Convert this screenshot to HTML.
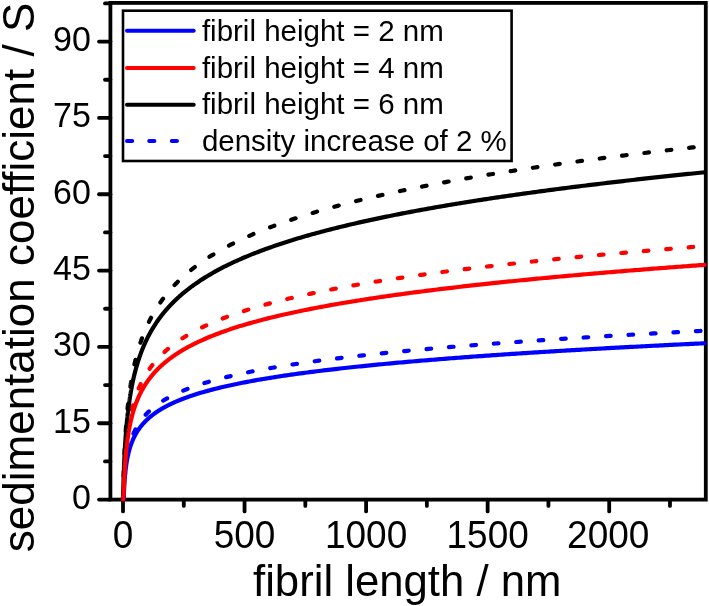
<!DOCTYPE html>
<html><head><meta charset="utf-8"><style>
html,body{margin:0;padding:0;background:#fff;}
body{width:709px;height:606px;overflow:hidden;}
svg{display:block;will-change:transform;}
text{font-family:"Liberation Sans",sans-serif;fill:#000;}
.yt{font-size:34px;text-anchor:end;}
.xt{font-size:37px;text-anchor:middle;}
.lg{font-size:29.5px;}
.sol{fill:none;stroke-width:4.2;stroke-linejoin:round;stroke-linecap:round;}
.dash{fill:none;stroke-width:4.2;stroke-linejoin:round;stroke-linecap:round;stroke-dasharray:4.6 17.9;}
</style></head><body>
<svg width="709" height="606" viewBox="0 0 709 606">
<rect width="709" height="606" fill="#fff"/>
<g stroke="#000" stroke-width="3.8" stroke-linecap="round" fill="none">
<line x1="99.00" y1="499.60" x2="110.4" y2="499.60"/>
<line x1="105.00" y1="461.43" x2="110.4" y2="461.43"/>
<line x1="99.00" y1="423.26" x2="110.4" y2="423.26"/>
<line x1="105.00" y1="385.10" x2="110.4" y2="385.10"/>
<line x1="99.00" y1="346.93" x2="110.4" y2="346.93"/>
<line x1="105.00" y1="308.76" x2="110.4" y2="308.76"/>
<line x1="99.00" y1="270.60" x2="110.4" y2="270.60"/>
<line x1="105.00" y1="232.43" x2="110.4" y2="232.43"/>
<line x1="99.00" y1="194.26" x2="110.4" y2="194.26"/>
<line x1="105.00" y1="156.09" x2="110.4" y2="156.09"/>
<line x1="99.00" y1="117.93" x2="110.4" y2="117.93"/>
<line x1="105.00" y1="79.76" x2="110.4" y2="79.76"/>
<line x1="99.00" y1="41.59" x2="110.4" y2="41.59"/>
<line x1="105.00" y1="3.42" x2="110.4" y2="3.42"/>
<line x1="123.00" y1="499.6" x2="123.00" y2="511.40"/>
<line x1="183.78" y1="499.6" x2="183.78" y2="505.90"/>
<line x1="244.55" y1="499.6" x2="244.55" y2="511.40"/>
<line x1="305.33" y1="499.6" x2="305.33" y2="505.90"/>
<line x1="366.10" y1="499.6" x2="366.10" y2="511.40"/>
<line x1="426.88" y1="499.6" x2="426.88" y2="505.90"/>
<line x1="487.65" y1="499.6" x2="487.65" y2="511.40"/>
<line x1="548.42" y1="499.6" x2="548.42" y2="505.90"/>
<line x1="609.20" y1="499.6" x2="609.20" y2="511.40"/>
<line x1="669.98" y1="499.6" x2="669.98" y2="505.90"/>
<rect x="110.4" y="2.9" width="595.40" height="496.70" stroke-linecap="butt" stroke-linejoin="miter"/>
</g>
<path d="M123.00,499.60 L123.01,499.60 L123.02,499.60 L123.04,499.60 L123.05,499.60 L123.06,499.60 L123.07,499.60 L123.09,499.60 L123.10,499.60 L123.11,499.60 L123.12,499.60 L123.13,499.60 L123.15,499.60 L123.16,499.60 L123.17,499.60 L123.18,499.59 L123.19,499.59 L123.21,499.59 L123.22,499.59 L123.23,499.59 L123.24,499.58 L123.26,499.58 L123.27,499.57 L123.28,499.56 L123.29,499.56 L123.30,499.54 L123.32,499.53 L123.33,499.52 L123.34,499.50 L123.35,499.48 L123.36,499.46 L123.38,499.43 L123.39,499.40 L123.40,499.37 L123.41,499.33 L123.43,499.29 L123.44,499.24 L123.45,499.18 L123.46,499.12 L123.47,499.05 L123.49,498.98 L123.53,498.63 L123.58,498.16 L123.63,497.57 L123.67,496.87 L123.72,496.06 L123.76,495.17 L123.81,494.22 L123.86,493.24 L123.90,492.24 L123.95,491.24 L124.00,490.25 L124.04,489.26 L124.09,488.30 L124.14,487.36 L124.18,486.45 L124.23,485.56 L124.28,484.69 L124.32,483.85 L124.37,483.04 L124.41,482.25 L124.46,481.48 L124.51,480.73 L124.55,480.00 L124.60,479.29 L124.65,478.61 L124.69,477.94 L124.74,477.28 L124.79,476.65 L124.83,476.03 L124.88,475.42 L124.93,474.83 L124.97,474.25 L125.02,473.69 L125.06,473.14 L125.11,472.60 L125.16,472.07 L125.20,471.55 L125.25,471.05 L125.30,470.55 L125.34,470.06 L125.39,469.59 L125.44,469.12 L125.48,468.66 L125.53,468.21 L125.58,467.77 L125.62,467.33 L125.67,466.91 L125.71,466.49 L125.76,466.08 L125.81,465.67 L125.85,465.27 L125.90,464.88 L125.95,464.49 L125.99,464.11 L126.04,463.74 L126.09,463.37 L126.13,463.01 L126.18,462.65 L126.23,462.30 L126.27,461.95 L126.32,461.60 L126.36,461.27 L126.41,460.93 L126.46,460.60 L126.50,460.28 L126.55,459.96 L126.60,459.64 L126.64,459.33 L126.69,459.02 L126.74,458.72 L126.78,458.42 L126.83,458.12 L126.87,457.83 L126.92,457.54 L126.97,457.25 L127.01,456.97 L127.06,456.69 L127.11,456.41 L127.15,456.14 L127.20,455.87 L127.25,455.60 L127.29,455.33 L127.34,455.07 L127.39,454.81 L127.43,454.56 L127.48,454.30 L127.52,454.05 L127.57,453.80 L127.62,453.56 L127.66,453.31 L127.71,453.07 L127.76,452.83 L127.80,452.60 L127.85,452.36 L127.90,452.13 L127.94,451.90 L127.99,451.67 L128.04,451.45 L128.08,451.23 L128.13,451.00 L128.17,450.78 L128.22,450.57 L128.27,450.35 L128.31,450.14 L128.36,449.93 L128.41,449.72 L128.45,449.51 L128.50,449.30 L128.55,449.10 L128.59,448.89 L128.64,448.69 L128.69,448.49 L128.73,448.29 L128.78,448.10 L128.82,447.90 L128.87,447.71 L128.92,447.52 L128.96,447.33 L129.01,447.14 L129.06,446.95 L129.10,446.76 L129.15,446.58 L129.20,446.40 L129.24,446.21 L129.29,446.03 L129.34,445.86 L129.38,445.68 L129.43,445.50 L129.47,445.33 L129.52,445.15 L129.57,444.98 L129.61,444.81 L129.66,444.64 L129.71,444.47 L129.75,444.30 L129.80,444.13 L129.85,443.97 L129.89,443.80 L129.94,443.64 L129.99,443.48 L130.03,443.31 L130.08,443.15 L130.12,442.99 L130.17,442.84 L130.22,442.68 L130.26,442.52 L130.31,442.37 L130.36,442.21 L130.40,442.06 L130.45,441.91 L130.50,441.76 L130.54,441.61 L130.59,441.46 L130.64,441.31 L130.68,441.16 L130.73,441.01 L130.77,440.87 L130.82,440.72 L130.87,440.58 L130.91,440.43 L130.96,440.29 L131.01,440.15 L131.05,440.01 L131.10,439.87 L131.15,439.73 L131.19,439.59 L131.24,439.45 L131.28,439.32 L131.33,439.18 L131.38,439.04 L131.42,438.91 L131.47,438.77 L131.52,438.64 L131.56,438.51 L131.61,438.38 L131.66,438.25 L131.70,438.12 L131.75,437.99 L131.80,437.86 L131.84,437.73 L131.89,437.60 L131.93,437.47 L131.98,437.35 L132.03,437.22 L132.07,437.10 L132.12,436.97 L132.17,436.85 L132.21,436.72 L132.26,436.60 L132.31,436.48 L132.35,436.36 L132.40,436.24 L132.45,436.12 L132.49,436.00 L132.54,435.88 L132.58,435.76 L132.63,435.64 L132.68,435.53 L132.72,435.41 L133.04,434.62 L133.36,433.86 L133.68,433.13 L133.99,432.41 L134.31,431.72 L134.63,431.04 L134.95,430.38 L135.26,429.74 L135.58,429.12 L135.90,428.51 L136.22,427.91 L136.54,427.33 L136.85,426.77 L137.17,426.21 L137.49,425.67 L137.81,425.14 L138.12,424.62 L138.44,424.12 L138.76,423.62 L139.08,423.13 L139.39,422.65 L139.71,422.18 L140.03,421.72 L140.35,421.27 L140.66,420.83 L140.98,420.39 L141.30,419.96 L141.62,419.54 L141.93,419.13 L142.25,418.72 L142.57,418.32 L142.89,417.92 L143.21,417.53 L143.52,417.15 L143.84,416.78 L144.16,416.41 L144.48,416.04 L144.79,415.68 L145.11,415.33 L145.43,414.98 L145.75,414.63 L146.06,414.29 L146.38,413.96 L146.70,413.63 L147.02,413.30 L147.33,412.98 L147.65,412.66 L147.97,412.35 L148.29,412.03 L148.60,411.73 L148.92,411.43 L149.24,411.13 L149.56,410.83 L149.88,410.54 L150.19,410.25 L150.51,409.97 L150.83,409.68 L151.15,409.41 L151.46,409.13 L151.78,408.86 L152.10,408.59 L152.42,408.32 L152.73,408.06 L153.05,407.80 L153.37,407.54 L153.69,407.28 L154.00,407.03 L154.32,406.78 L154.64,406.53 L154.96,406.28 L155.27,406.04 L155.59,405.80 L155.91,405.56 L156.23,405.32 L156.55,405.09 L156.86,404.86 L157.18,404.63 L157.50,404.40 L157.82,404.17 L158.13,403.95 L158.45,403.73 L158.77,403.51 L159.09,403.29 L159.40,403.08 L159.72,402.86 L160.04,402.65 L160.36,402.44 L160.67,402.23 L160.99,402.02 L161.31,401.82 L161.63,401.61 L161.94,401.41 L162.26,401.21 L162.58,401.01 L162.90,400.82 L163.22,400.62 L163.53,400.43 L163.85,400.23 L164.17,400.04 L164.49,399.85 L164.80,399.67 L165.12,399.48 L165.44,399.29 L165.76,399.11 L166.07,398.93 L166.39,398.74 L166.71,398.56 L167.03,398.39 L167.34,398.21 L167.66,398.03 L167.98,397.86 L168.30,397.68 L168.61,397.51 L168.93,397.34 L169.25,397.17 L169.57,397.00 L169.89,396.83 L170.20,396.66 L170.52,396.50 L170.84,396.33 L171.16,396.17 L171.47,396.01 L171.79,395.84 L172.11,395.68 L172.43,395.52 L172.74,395.37 L173.06,395.21 L173.38,395.05 L173.70,394.90 L174.01,394.74 L174.33,394.59 L174.65,394.43 L174.97,394.28 L175.28,394.13 L175.60,393.98 L175.92,393.83 L176.24,393.68 L176.56,393.54 L176.87,393.39 L177.19,393.24 L177.51,393.10 L177.83,392.95 L178.14,392.81 L178.46,392.67 L178.78,392.53 L179.10,392.39 L179.41,392.25 L179.73,392.11 L180.05,391.97 L180.37,391.83 L180.68,391.69 L181.00,391.56 L181.32,391.42 L181.64,391.29 L181.95,391.15 L182.27,391.02 L182.59,390.89 L182.91,390.75 L183.23,390.62 L183.54,390.49 L183.86,390.36 L184.18,390.23 L184.50,390.10 L184.81,389.97 L185.13,389.85 L185.45,389.72 L185.77,389.59 L186.08,389.47 L186.40,389.34 L186.72,389.22 L187.04,389.10 L187.35,388.97 L187.67,388.85 L187.99,388.73 L188.31,388.61 L188.62,388.49 L188.94,388.37 L189.26,388.25 L189.58,388.13 L189.90,388.01 L190.21,387.89 L190.53,387.77 L190.85,387.66 L191.17,387.54 L191.48,387.42 L191.80,387.31 L192.12,387.19 L192.44,387.08 L192.75,386.96 L193.07,386.85 L193.39,386.74 L193.71,386.63 L194.02,386.51 L194.34,386.40 L194.66,386.29 L194.98,386.18 L195.29,386.07 L195.61,385.96 L195.93,385.85 L198.25,385.07 L200.57,384.31 L202.90,383.57 L205.22,382.85 L207.54,382.16 L209.86,381.48 L212.19,380.81 L214.51,380.17 L216.83,379.54 L219.15,378.92 L221.47,378.32 L223.80,377.73 L226.12,377.16 L228.44,376.60 L230.76,376.05 L233.09,375.51 L235.41,374.98 L237.73,374.46 L240.05,373.95 L242.37,373.45 L244.70,372.96 L247.02,372.48 L249.34,372.01 L251.66,371.55 L253.99,371.09 L256.31,370.64 L258.63,370.20 L260.95,369.77 L263.27,369.34 L265.60,368.92 L267.92,368.51 L270.24,368.10 L272.56,367.70 L274.89,367.30 L277.21,366.91 L279.53,366.53 L281.85,366.15 L284.17,365.77 L286.50,365.41 L288.82,365.04 L291.14,364.68 L293.46,364.33 L295.79,363.98 L298.11,363.63 L300.43,363.29 L302.75,362.95 L305.07,362.62 L307.40,362.29 L309.72,361.97 L312.04,361.64 L314.36,361.33 L316.69,361.01 L319.01,360.70 L321.33,360.39 L323.65,360.09 L325.97,359.79 L328.30,359.49 L330.62,359.20 L332.94,358.91 L335.26,358.62 L337.59,358.33 L339.91,358.05 L342.23,357.77 L344.55,357.49 L346.87,357.22 L349.20,356.94 L351.52,356.68 L353.84,356.41 L356.16,356.14 L358.49,355.88 L360.81,355.62 L363.13,355.36 L365.45,355.11 L367.77,354.86 L370.10,354.61 L372.42,354.36 L374.74,354.11 L377.06,353.87 L379.39,353.62 L381.71,353.38 L384.03,353.15 L386.35,352.91 L388.67,352.68 L391.00,352.44 L393.32,352.21 L395.64,351.98 L397.96,351.76 L400.28,351.53 L402.61,351.31 L404.93,351.08 L407.25,350.86 L409.57,350.64 L411.90,350.43 L414.22,350.21 L416.54,350.00 L418.86,349.78 L421.18,349.57 L423.51,349.36 L425.83,349.16 L428.15,348.95 L430.47,348.74 L432.80,348.54 L435.12,348.34 L437.44,348.14 L439.76,347.94 L442.08,347.74 L444.41,347.54 L446.73,347.34 L449.05,347.15 L451.37,346.95 L453.70,346.76 L456.02,346.57 L458.34,346.38 L460.66,346.19 L462.98,346.00 L465.31,345.82 L467.63,345.63 L469.95,345.45 L472.27,345.26 L474.60,345.08 L476.92,344.90 L479.24,344.72 L481.56,344.54 L483.88,344.36 L486.21,344.19 L488.53,344.01 L490.85,343.84 L493.17,343.66 L495.50,343.49 L497.82,343.32 L500.14,343.15 L502.46,342.97 L504.78,342.81 L507.11,342.64 L509.43,342.47 L511.75,342.30 L514.07,342.14 L516.40,341.97 L518.72,341.81 L521.04,341.64 L523.36,341.48 L525.68,341.32 L528.01,341.16 L530.33,341.00 L532.65,340.84 L534.97,340.68 L537.30,340.52 L539.62,340.37 L541.94,340.21 L544.26,340.05 L546.58,339.90 L548.91,339.75 L551.23,339.59 L553.55,339.44 L555.87,339.29 L558.20,339.14 L560.52,338.99 L562.84,338.84 L565.16,338.69 L567.48,338.54 L569.81,338.39 L572.13,338.24 L574.45,338.10 L576.77,337.95 L579.10,337.81 L581.42,337.66 L583.74,337.52 L586.06,337.37 L588.38,337.23 L590.71,337.09 L593.03,336.95 L595.35,336.81 L597.67,336.67 L600.00,336.53 L602.32,336.39 L604.64,336.25 L606.96,336.11 L609.28,335.97 L611.61,335.84 L613.93,335.70 L616.25,335.56 L618.57,335.43 L620.90,335.29 L623.22,335.16 L625.54,335.03 L627.86,334.89 L630.18,334.76 L632.51,334.63 L634.83,334.50 L637.15,334.37 L639.47,334.24 L641.80,334.11 L644.12,333.98 L646.44,333.85 L648.76,333.72 L651.08,333.59 L653.41,333.46 L655.73,333.33 L658.05,333.21 L660.37,333.08 L662.70,332.96 L665.02,332.83 L667.34,332.70 L669.66,332.58 L671.98,332.46 L674.31,332.33 L676.63,332.21 L678.95,332.09 L681.27,331.96 L683.60,331.84 L685.92,331.72 L688.24,331.60 L690.56,331.48 L692.88,331.36 L695.21,331.24 L697.53,331.12 L699.85,331.00 L702.17,330.88 L704.50,330.76" stroke="#00f" class="dash" stroke-dashoffset="-0.03"/>
<path d="M123.00,499.60 L123.01,499.17 L123.02,498.69 L123.04,498.20 L123.05,497.71 L123.06,497.21 L123.07,496.70 L123.09,496.20 L123.10,495.69 L123.11,495.19 L123.12,494.68 L123.13,494.18 L123.15,493.67 L123.16,493.17 L123.17,492.68 L123.18,492.18 L123.19,491.69 L123.21,491.19 L123.22,490.71 L123.23,490.22 L123.24,489.74 L123.26,489.26 L123.27,488.78 L123.28,488.30 L123.29,487.83 L123.30,487.36 L123.32,486.90 L123.33,486.43 L123.34,485.97 L123.35,485.52 L123.36,485.06 L123.38,484.61 L123.39,484.16 L123.40,483.72 L123.41,483.27 L123.43,482.83 L123.44,482.40 L123.45,481.96 L123.46,481.53 L123.47,481.10 L123.49,480.68 L123.53,479.08 L123.58,477.52 L123.63,475.99 L123.67,474.50 L123.72,473.05 L123.76,471.63 L123.81,470.25 L123.86,468.90 L123.90,467.57 L123.95,466.28 L124.00,465.01 L124.04,463.77 L124.09,462.55 L124.14,461.36 L124.18,460.20 L124.23,459.06 L124.28,457.93 L124.32,456.84 L124.37,455.76 L124.41,454.70 L124.46,453.66 L124.51,452.64 L124.55,451.63 L124.60,450.65 L124.65,449.68 L124.69,448.73 L124.74,447.79 L124.79,446.87 L124.83,445.96 L124.88,445.07 L124.93,444.19 L124.97,443.33 L125.02,442.47 L125.06,441.63 L125.11,440.81 L125.16,439.99 L125.20,439.19 L125.25,438.40 L125.30,437.62 L125.34,436.85 L125.39,436.09 L125.44,435.34 L125.48,434.60 L125.53,433.87 L125.58,433.15 L125.62,432.44 L125.67,431.73 L125.71,431.04 L125.76,430.36 L125.81,429.68 L125.85,429.01 L125.90,428.35 L125.95,427.70 L125.99,427.05 L126.04,426.41 L126.09,425.78 L126.13,425.16 L126.18,424.54 L126.23,423.93 L126.27,423.33 L126.32,422.73 L126.36,422.14 L126.41,421.56 L126.46,420.98 L126.50,420.41 L126.55,419.84 L126.60,419.28 L126.64,418.73 L126.69,418.18 L126.74,417.63 L126.78,417.10 L126.83,416.56 L126.87,416.03 L126.92,415.51 L126.97,414.99 L127.01,414.48 L127.06,413.97 L127.11,413.47 L127.15,412.97 L127.20,412.47 L127.25,411.98 L127.29,411.49 L127.34,411.01 L127.39,410.53 L127.43,410.06 L127.48,409.59 L127.52,409.12 L127.57,408.66 L127.62,408.20 L127.66,407.75 L127.71,407.30 L127.76,406.85 L127.80,406.41 L127.85,405.97 L127.90,405.53 L127.94,405.10 L127.99,404.67 L128.04,404.24 L128.08,403.82 L128.13,403.40 L128.17,402.98 L128.22,402.57 L128.27,402.16 L128.31,401.75 L128.36,401.35 L128.41,400.95 L128.45,400.55 L128.50,400.15 L128.55,399.76 L128.59,399.37 L128.64,398.98 L128.69,398.60 L128.73,398.22 L128.78,397.84 L128.82,397.46 L128.87,397.09 L128.92,396.71 L128.96,396.35 L129.01,395.98 L129.06,395.62 L129.10,395.25 L129.15,394.89 L129.20,394.54 L129.24,394.18 L129.29,393.83 L129.34,393.48 L129.38,393.13 L129.43,392.79 L129.47,392.44 L129.52,392.10 L129.57,391.76 L129.61,391.42 L129.66,391.09 L129.71,390.76 L129.75,390.42 L129.80,390.10 L129.85,389.77 L129.89,389.44 L129.94,389.12 L129.99,388.80 L130.03,388.48 L130.08,388.16 L130.12,387.84 L130.17,387.53 L130.22,387.22 L130.26,386.91 L130.31,386.60 L130.36,386.29 L130.40,385.99 L130.45,385.68 L130.50,385.38 L130.54,385.08 L130.59,384.78 L130.64,384.48 L130.68,384.19 L130.73,383.89 L130.77,383.60 L130.82,383.31 L130.87,383.02 L130.91,382.73 L130.96,382.45 L131.01,382.16 L131.05,381.88 L131.10,381.60 L131.15,381.32 L131.19,381.04 L131.24,380.76 L131.28,380.48 L131.33,380.21 L131.38,379.94 L131.42,379.66 L131.47,379.39 L131.52,379.12 L131.56,378.86 L131.61,378.59 L131.66,378.32 L131.70,378.06 L131.75,377.80 L131.80,377.53 L131.84,377.27 L131.89,377.02 L131.93,376.76 L131.98,376.50 L132.03,376.24 L132.07,375.99 L132.12,375.74 L132.17,375.49 L132.21,375.23 L132.26,374.98 L132.31,374.74 L132.35,374.49 L132.40,374.24 L132.45,374.00 L132.49,373.75 L132.54,373.51 L132.58,373.27 L132.63,373.03 L132.68,372.79 L132.72,372.55 L133.04,370.94 L133.36,369.38 L133.68,367.86 L133.99,366.38 L134.31,364.95 L134.63,363.54 L134.95,362.18 L135.26,360.84 L135.58,359.54 L135.90,358.27 L136.22,357.03 L136.54,355.81 L136.85,354.62 L137.17,353.46 L137.49,352.32 L137.81,351.20 L138.12,350.11 L138.44,349.04 L138.76,347.99 L139.08,346.95 L139.39,345.94 L139.71,344.94 L140.03,343.97 L140.35,343.01 L140.66,342.06 L140.98,341.14 L141.30,340.22 L141.62,339.33 L141.93,338.44 L142.25,337.58 L142.57,336.72 L142.89,335.88 L143.21,335.05 L143.52,334.23 L143.84,333.43 L144.16,332.63 L144.48,331.85 L144.79,331.08 L145.11,330.32 L145.43,329.57 L145.75,328.83 L146.06,328.10 L146.38,327.38 L146.70,326.67 L147.02,325.96 L147.33,325.27 L147.65,324.58 L147.97,323.91 L148.29,323.24 L148.60,322.58 L148.92,321.93 L149.24,321.28 L149.56,320.64 L149.88,320.01 L150.19,319.39 L150.51,318.78 L150.83,318.17 L151.15,317.56 L151.46,316.97 L151.78,316.38 L152.10,315.79 L152.42,315.22 L152.73,314.65 L153.05,314.08 L153.37,313.52 L153.69,312.97 L154.00,312.42 L154.32,311.87 L154.64,311.34 L154.96,310.80 L155.27,310.28 L155.59,309.75 L155.91,309.24 L156.23,308.72 L156.55,308.21 L156.86,307.71 L157.18,307.21 L157.50,306.72 L157.82,306.23 L158.13,305.74 L158.45,305.26 L158.77,304.78 L159.09,304.31 L159.40,303.84 L159.72,303.37 L160.04,302.91 L160.36,302.45 L160.67,302.00 L160.99,301.55 L161.31,301.10 L161.63,300.66 L161.94,300.22 L162.26,299.78 L162.58,299.35 L162.90,298.92 L163.22,298.49 L163.53,298.07 L163.85,297.65 L164.17,297.24 L164.49,296.82 L164.80,296.41 L165.12,296.00 L165.44,295.60 L165.76,295.20 L166.07,294.80 L166.39,294.40 L166.71,294.01 L167.03,293.62 L167.34,293.23 L167.66,292.85 L167.98,292.47 L168.30,292.09 L168.61,291.71 L168.93,291.33 L169.25,290.96 L169.57,290.59 L169.89,290.23 L170.20,289.86 L170.52,289.50 L170.84,289.14 L171.16,288.78 L171.47,288.43 L171.79,288.07 L172.11,287.72 L172.43,287.37 L172.74,287.03 L173.06,286.68 L173.38,286.34 L173.70,286.00 L174.01,285.66 L174.33,285.32 L174.65,284.99 L174.97,284.66 L175.28,284.33 L175.60,284.00 L175.92,283.67 L176.24,283.35 L176.56,283.03 L176.87,282.71 L177.19,282.39 L177.51,282.07 L177.83,281.75 L178.14,281.44 L178.46,281.13 L178.78,280.82 L179.10,280.51 L179.41,280.20 L179.73,279.90 L180.05,279.60 L180.37,279.29 L180.68,278.99 L181.00,278.70 L181.32,278.40 L181.64,278.10 L181.95,277.81 L182.27,277.52 L182.59,277.23 L182.91,276.94 L183.23,276.65 L183.54,276.36 L183.86,276.08 L184.18,275.79 L184.50,275.51 L184.81,275.23 L185.13,274.95 L185.45,274.67 L185.77,274.40 L186.08,274.12 L186.40,273.85 L186.72,273.58 L187.04,273.31 L187.35,273.04 L187.67,272.77 L187.99,272.50 L188.31,272.23 L188.62,271.97 L188.94,271.71 L189.26,271.44 L189.58,271.18 L189.90,270.92 L190.21,270.66 L190.53,270.41 L190.85,270.15 L191.17,269.90 L191.48,269.64 L191.80,269.39 L192.12,269.14 L192.44,268.89 L192.75,268.64 L193.07,268.39 L193.39,268.14 L193.71,267.89 L194.02,267.65 L194.34,267.40 L194.66,267.16 L194.98,266.92 L195.29,266.68 L195.61,266.44 L195.93,266.20 L198.25,264.48 L200.57,262.82 L202.90,261.20 L205.22,259.62 L207.54,258.09 L209.86,256.60 L212.19,255.15 L214.51,253.73 L216.83,252.35 L219.15,251.00 L221.47,249.68 L223.80,248.39 L226.12,247.12 L228.44,245.89 L230.76,244.68 L233.09,243.50 L235.41,242.34 L237.73,241.20 L240.05,240.09 L242.37,238.99 L244.70,237.92 L247.02,236.86 L249.34,235.83 L251.66,234.81 L253.99,233.81 L256.31,232.83 L258.63,231.86 L260.95,230.91 L263.27,229.97 L265.60,229.05 L267.92,228.14 L270.24,227.25 L272.56,226.37 L274.89,225.50 L277.21,224.65 L279.53,223.80 L281.85,222.97 L284.17,222.15 L286.50,221.35 L288.82,220.55 L291.14,219.76 L293.46,218.98 L295.79,218.22 L298.11,217.46 L300.43,216.71 L302.75,215.97 L305.07,215.25 L307.40,214.52 L309.72,213.81 L312.04,213.11 L314.36,212.41 L316.69,211.72 L319.01,211.04 L321.33,210.37 L323.65,209.71 L325.97,209.05 L328.30,208.40 L330.62,207.75 L332.94,207.12 L335.26,206.49 L337.59,205.86 L339.91,205.24 L342.23,204.63 L344.55,204.03 L346.87,203.43 L349.20,202.83 L351.52,202.24 L353.84,201.66 L356.16,201.08 L358.49,200.51 L360.81,199.94 L363.13,199.38 L365.45,198.82 L367.77,198.27 L370.10,197.73 L372.42,197.18 L374.74,196.65 L377.06,196.11 L379.39,195.58 L381.71,195.06 L384.03,194.54 L386.35,194.03 L388.67,193.51 L391.00,193.01 L393.32,192.50 L395.64,192.00 L397.96,191.51 L400.28,191.02 L402.61,190.53 L404.93,190.05 L407.25,189.57 L409.57,189.09 L411.90,188.62 L414.22,188.15 L416.54,187.68 L418.86,187.22 L421.18,186.76 L423.51,186.30 L425.83,185.85 L428.15,185.40 L430.47,184.95 L432.80,184.51 L435.12,184.07 L437.44,183.63 L439.76,183.20 L442.08,182.76 L444.41,182.33 L446.73,181.91 L449.05,181.48 L451.37,181.06 L453.70,180.65 L456.02,180.23 L458.34,179.82 L460.66,179.41 L462.98,179.00 L465.31,178.60 L467.63,178.19 L469.95,177.79 L472.27,177.40 L474.60,177.00 L476.92,176.61 L479.24,176.22 L481.56,175.83 L483.88,175.44 L486.21,175.06 L488.53,174.68 L490.85,174.30 L493.17,173.92 L495.50,173.54 L497.82,173.17 L500.14,172.80 L502.46,172.43 L504.78,172.06 L507.11,171.70 L509.43,171.34 L511.75,170.97 L514.07,170.62 L516.40,170.26 L518.72,169.90 L521.04,169.55 L523.36,169.20 L525.68,168.85 L528.01,168.50 L530.33,168.15 L532.65,167.81 L534.97,167.47 L537.30,167.13 L539.62,166.79 L541.94,166.45 L544.26,166.11 L546.58,165.78 L548.91,165.44 L551.23,165.11 L553.55,164.78 L555.87,164.46 L558.20,164.13 L560.52,163.80 L562.84,163.48 L565.16,163.16 L567.48,162.84 L569.81,162.52 L572.13,162.20 L574.45,161.89 L576.77,161.57 L579.10,161.26 L581.42,160.95 L583.74,160.64 L586.06,160.33 L588.38,160.02 L590.71,159.71 L593.03,159.41 L595.35,159.10 L597.67,158.80 L600.00,158.50 L602.32,158.20 L604.64,157.90 L606.96,157.60 L609.28,157.31 L611.61,157.01 L613.93,156.72 L616.25,156.43 L618.57,156.14 L620.90,155.85 L623.22,155.56 L625.54,155.27 L627.86,154.98 L630.18,154.70 L632.51,154.41 L634.83,154.13 L637.15,153.85 L639.47,153.57 L641.80,153.29 L644.12,153.01 L646.44,152.73 L648.76,152.45 L651.08,152.18 L653.41,151.90 L655.73,151.63 L658.05,151.36 L660.37,151.09 L662.70,150.82 L665.02,150.55 L667.34,150.28 L669.66,150.01 L671.98,149.74 L674.31,149.48 L676.63,149.21 L678.95,148.95 L681.27,148.69 L683.60,148.43 L685.92,148.17 L688.24,147.91 L690.56,147.65 L692.88,147.39 L695.21,147.13 L697.53,146.87 L699.85,146.62 L702.17,146.36 L704.50,146.11" stroke="#000" class="dash" stroke-dashoffset="-0.95"/>
<path d="M123.00,499.60 L123.01,499.60 L123.02,499.59 L123.04,499.58 L123.05,499.56 L123.06,499.54 L123.07,499.51 L123.09,499.47 L123.10,499.43 L123.11,499.38 L123.12,499.32 L123.13,499.26 L123.15,499.19 L123.16,499.11 L123.17,499.02 L123.18,498.93 L123.19,498.83 L123.21,498.73 L123.22,498.62 L123.23,498.50 L123.24,498.37 L123.26,498.24 L123.27,498.11 L123.28,497.96 L123.29,497.81 L123.30,497.65 L123.32,497.49 L123.33,497.32 L123.34,497.15 L123.35,496.97 L123.36,496.78 L123.38,496.59 L123.39,496.39 L123.40,496.19 L123.41,495.99 L123.43,495.78 L123.44,495.56 L123.45,495.34 L123.46,495.12 L123.47,494.89 L123.49,494.66 L123.53,493.75 L123.58,492.79 L123.63,491.79 L123.67,490.76 L123.72,489.72 L123.76,488.66 L123.81,487.58 L123.86,486.51 L123.90,485.43 L123.95,484.35 L124.00,483.29 L124.04,482.22 L124.09,481.17 L124.14,480.13 L124.18,479.10 L124.23,478.09 L124.28,477.09 L124.32,476.10 L124.37,475.13 L124.41,474.18 L124.46,473.24 L124.51,472.32 L124.55,471.41 L124.60,470.52 L124.65,469.64 L124.69,468.78 L124.74,467.94 L124.79,467.11 L124.83,466.29 L124.88,465.49 L124.93,464.70 L124.97,463.92 L125.02,463.16 L125.06,462.41 L125.11,461.67 L125.16,460.95 L125.20,460.23 L125.25,459.53 L125.30,458.84 L125.34,458.16 L125.39,457.49 L125.44,456.84 L125.48,456.19 L125.53,455.55 L125.58,454.92 L125.62,454.30 L125.67,453.69 L125.71,453.09 L125.76,452.50 L125.81,451.92 L125.85,451.34 L125.90,450.78 L125.95,450.22 L125.99,449.66 L126.04,449.12 L126.09,448.58 L126.13,448.05 L126.18,447.53 L126.23,447.01 L126.27,446.51 L126.32,446.00 L126.36,445.51 L126.41,445.02 L126.46,444.53 L126.50,444.05 L126.55,443.58 L126.60,443.11 L126.64,442.65 L126.69,442.20 L126.74,441.74 L126.78,441.30 L126.83,440.86 L126.87,440.42 L126.92,439.99 L126.97,439.56 L127.01,439.14 L127.06,438.73 L127.11,438.31 L127.15,437.90 L127.20,437.50 L127.25,437.10 L127.29,436.70 L127.34,436.31 L127.39,435.92 L127.43,435.54 L127.48,435.16 L127.52,434.78 L127.57,434.41 L127.62,434.04 L127.66,433.68 L127.71,433.31 L127.76,432.95 L127.80,432.60 L127.85,432.25 L127.90,431.90 L127.94,431.55 L127.99,431.21 L128.04,430.87 L128.08,430.53 L128.13,430.20 L128.17,429.87 L128.22,429.54 L128.27,429.21 L128.31,428.89 L128.36,428.57 L128.41,428.25 L128.45,427.94 L128.50,427.63 L128.55,427.32 L128.59,427.01 L128.64,426.71 L128.69,426.40 L128.73,426.10 L128.78,425.81 L128.82,425.51 L128.87,425.22 L128.92,424.93 L128.96,424.64 L129.01,424.35 L129.06,424.07 L129.10,423.79 L129.15,423.51 L129.20,423.23 L129.24,422.95 L129.29,422.68 L129.34,422.41 L129.38,422.14 L129.43,421.87 L129.47,421.60 L129.52,421.34 L129.57,421.07 L129.61,420.81 L129.66,420.55 L129.71,420.30 L129.75,420.04 L129.80,419.79 L129.85,419.54 L129.89,419.29 L129.94,419.04 L129.99,418.79 L130.03,418.54 L130.08,418.30 L130.12,418.06 L130.17,417.82 L130.22,417.58 L130.26,417.34 L130.31,417.10 L130.36,416.87 L130.40,416.63 L130.45,416.40 L130.50,416.17 L130.54,415.94 L130.59,415.71 L130.64,415.49 L130.68,415.26 L130.73,415.04 L130.77,414.82 L130.82,414.59 L130.87,414.37 L130.91,414.16 L130.96,413.94 L131.01,413.72 L131.05,413.51 L131.10,413.29 L131.15,413.08 L131.19,412.87 L131.24,412.66 L131.28,412.45 L131.33,412.24 L131.38,412.04 L131.42,411.83 L131.47,411.63 L131.52,411.42 L131.56,411.22 L131.61,411.02 L131.66,410.82 L131.70,410.62 L131.75,410.42 L131.80,410.23 L131.84,410.03 L131.89,409.83 L131.93,409.64 L131.98,409.45 L132.03,409.26 L132.07,409.06 L132.12,408.87 L132.17,408.68 L132.21,408.50 L132.26,408.31 L132.31,408.12 L132.35,407.94 L132.40,407.75 L132.45,407.57 L132.49,407.39 L132.54,407.20 L132.58,407.02 L132.63,406.84 L132.68,406.66 L132.72,406.49 L133.04,405.29 L133.36,404.13 L133.68,403.00 L133.99,401.90 L134.31,400.84 L134.63,399.81 L134.95,398.80 L135.26,397.82 L135.58,396.86 L135.90,395.93 L136.22,395.02 L136.54,394.13 L136.85,393.26 L137.17,392.41 L137.49,391.58 L137.81,390.77 L138.12,389.98 L138.44,389.20 L138.76,388.44 L139.08,387.69 L139.39,386.95 L139.71,386.23 L140.03,385.53 L140.35,384.84 L140.66,384.15 L140.98,383.49 L141.30,382.83 L141.62,382.18 L141.93,381.55 L142.25,380.92 L142.57,380.31 L142.89,379.70 L143.21,379.11 L143.52,378.52 L143.84,377.95 L144.16,377.38 L144.48,376.82 L144.79,376.27 L145.11,375.72 L145.43,375.19 L145.75,374.66 L146.06,374.14 L146.38,373.62 L146.70,373.11 L147.02,372.61 L147.33,372.12 L147.65,371.63 L147.97,371.15 L148.29,370.67 L148.60,370.20 L148.92,369.74 L149.24,369.28 L149.56,368.83 L149.88,368.38 L150.19,367.94 L150.51,367.50 L150.83,367.07 L151.15,366.64 L151.46,366.22 L151.78,365.80 L152.10,365.38 L152.42,364.98 L152.73,364.57 L153.05,364.17 L153.37,363.77 L153.69,363.38 L154.00,362.99 L154.32,362.61 L154.64,362.23 L154.96,361.85 L155.27,361.48 L155.59,361.11 L155.91,360.74 L156.23,360.38 L156.55,360.02 L156.86,359.66 L157.18,359.31 L157.50,358.96 L157.82,358.61 L158.13,358.27 L158.45,357.93 L158.77,357.59 L159.09,357.26 L159.40,356.93 L159.72,356.60 L160.04,356.27 L160.36,355.95 L160.67,355.63 L160.99,355.31 L161.31,355.00 L161.63,354.69 L161.94,354.38 L162.26,354.07 L162.58,353.76 L162.90,353.46 L163.22,353.16 L163.53,352.86 L163.85,352.57 L164.17,352.27 L164.49,351.98 L164.80,351.69 L165.12,351.41 L165.44,351.12 L165.76,350.84 L166.07,350.56 L166.39,350.28 L166.71,350.01 L167.03,349.73 L167.34,349.46 L167.66,349.19 L167.98,348.92 L168.30,348.65 L168.61,348.39 L168.93,348.12 L169.25,347.86 L169.57,347.60 L169.89,347.34 L170.20,347.09 L170.52,346.83 L170.84,346.58 L171.16,346.33 L171.47,346.08 L171.79,345.83 L172.11,345.59 L172.43,345.34 L172.74,345.10 L173.06,344.86 L173.38,344.62 L173.70,344.38 L174.01,344.14 L174.33,343.90 L174.65,343.67 L174.97,343.44 L175.28,343.20 L175.60,342.97 L175.92,342.74 L176.24,342.52 L176.56,342.29 L176.87,342.07 L177.19,341.84 L177.51,341.62 L177.83,341.40 L178.14,341.18 L178.46,340.96 L178.78,340.74 L179.10,340.53 L179.41,340.31 L179.73,340.10 L180.05,339.88 L180.37,339.67 L180.68,339.46 L181.00,339.25 L181.32,339.05 L181.64,338.84 L181.95,338.63 L182.27,338.43 L182.59,338.22 L182.91,338.02 L183.23,337.82 L183.54,337.62 L183.86,337.42 L184.18,337.22 L184.50,337.02 L184.81,336.83 L185.13,336.63 L185.45,336.44 L185.77,336.24 L186.08,336.05 L186.40,335.86 L186.72,335.67 L187.04,335.48 L187.35,335.29 L187.67,335.10 L187.99,334.91 L188.31,334.73 L188.62,334.54 L188.94,334.36 L189.26,334.17 L189.58,333.99 L189.90,333.81 L190.21,333.63 L190.53,333.45 L190.85,333.27 L191.17,333.09 L191.48,332.91 L191.80,332.73 L192.12,332.56 L192.44,332.38 L192.75,332.21 L193.07,332.03 L193.39,331.86 L193.71,331.69 L194.02,331.52 L194.34,331.35 L194.66,331.18 L194.98,331.01 L195.29,330.84 L195.61,330.67 L195.93,330.50 L198.25,329.30 L200.57,328.14 L202.90,327.00 L205.22,325.90 L207.54,324.83 L209.86,323.79 L212.19,322.77 L214.51,321.78 L216.83,320.81 L219.15,319.87 L221.47,318.95 L223.80,318.05 L226.12,317.17 L228.44,316.30 L230.76,315.46 L233.09,314.63 L235.41,313.82 L237.73,313.03 L240.05,312.25 L242.37,311.48 L244.70,310.73 L247.02,309.99 L249.34,309.27 L251.66,308.56 L253.99,307.86 L256.31,307.17 L258.63,306.50 L260.95,305.83 L263.27,305.18 L265.60,304.53 L267.92,303.90 L270.24,303.27 L272.56,302.66 L274.89,302.05 L277.21,301.45 L279.53,300.86 L281.85,300.28 L284.17,299.71 L286.50,299.14 L288.82,298.58 L291.14,298.03 L293.46,297.49 L295.79,296.95 L298.11,296.42 L300.43,295.90 L302.75,295.38 L305.07,294.87 L307.40,294.37 L309.72,293.87 L312.04,293.38 L314.36,292.89 L316.69,292.41 L319.01,291.93 L321.33,291.46 L323.65,290.99 L325.97,290.53 L328.30,290.08 L330.62,289.62 L332.94,289.18 L335.26,288.74 L337.59,288.30 L339.91,287.86 L342.23,287.43 L344.55,287.01 L346.87,286.59 L349.20,286.17 L351.52,285.76 L353.84,285.35 L356.16,284.95 L358.49,284.54 L360.81,284.15 L363.13,283.75 L365.45,283.36 L367.77,282.97 L370.10,282.59 L372.42,282.21 L374.74,281.83 L377.06,281.46 L379.39,281.09 L381.71,280.72 L384.03,280.35 L386.35,279.99 L388.67,279.63 L391.00,279.27 L393.32,278.92 L395.64,278.57 L397.96,278.22 L400.28,277.88 L402.61,277.53 L404.93,277.19 L407.25,276.86 L409.57,276.52 L411.90,276.19 L414.22,275.86 L416.54,275.53 L418.86,275.20 L421.18,274.88 L423.51,274.56 L425.83,274.24 L428.15,273.92 L430.47,273.61 L432.80,273.30 L435.12,272.99 L437.44,272.68 L439.76,272.37 L442.08,272.07 L444.41,271.76 L446.73,271.46 L449.05,271.17 L451.37,270.87 L453.70,270.57 L456.02,270.28 L458.34,269.99 L460.66,269.70 L462.98,269.41 L465.31,269.13 L467.63,268.84 L469.95,268.56 L472.27,268.28 L474.60,268.00 L476.92,267.72 L479.24,267.45 L481.56,267.18 L483.88,266.90 L486.21,266.63 L488.53,266.36 L490.85,266.09 L493.17,265.83 L495.50,265.56 L497.82,265.30 L500.14,265.04 L502.46,264.78 L504.78,264.52 L507.11,264.26 L509.43,264.00 L511.75,263.75 L514.07,263.49 L516.40,263.24 L518.72,262.99 L521.04,262.74 L523.36,262.49 L525.68,262.24 L528.01,262.00 L530.33,261.75 L532.65,261.51 L534.97,261.27 L537.30,261.02 L539.62,260.78 L541.94,260.54 L544.26,260.31 L546.58,260.07 L548.91,259.83 L551.23,259.60 L553.55,259.37 L555.87,259.13 L558.20,258.90 L560.52,258.67 L562.84,258.44 L565.16,258.21 L567.48,257.99 L569.81,257.76 L572.13,257.54 L574.45,257.31 L576.77,257.09 L579.10,256.87 L581.42,256.65 L583.74,256.43 L586.06,256.21 L588.38,255.99 L590.71,255.77 L593.03,255.55 L595.35,255.34 L597.67,255.12 L600.00,254.91 L602.32,254.70 L604.64,254.48 L606.96,254.27 L609.28,254.06 L611.61,253.85 L613.93,253.65 L616.25,253.44 L618.57,253.23 L620.90,253.02 L623.22,252.82 L625.54,252.61 L627.86,252.41 L630.18,252.21 L632.51,252.01 L634.83,251.80 L637.15,251.60 L639.47,251.40 L641.80,251.21 L644.12,251.01 L646.44,250.81 L648.76,250.61 L651.08,250.42 L653.41,250.22 L655.73,250.03 L658.05,249.83 L660.37,249.64 L662.70,249.45 L665.02,249.25 L667.34,249.06 L669.66,248.87 L671.98,248.68 L674.31,248.49 L676.63,248.31 L678.95,248.12 L681.27,247.93 L683.60,247.74 L685.92,247.56 L688.24,247.37 L690.56,247.19 L692.88,247.00 L695.21,246.82 L697.53,246.64 L699.85,246.46 L702.17,246.27 L704.50,246.09" stroke="#f00" class="dash" stroke-dashoffset="-0.41"/>
<path d="M123.00,499.60 L123.01,499.60 L123.02,499.60 L123.04,499.60 L123.05,499.60 L123.06,499.60 L123.07,499.60 L123.09,499.60 L123.10,499.60 L123.11,499.60 L123.12,499.60 L123.13,499.60 L123.15,499.60 L123.16,499.60 L123.17,499.60 L123.18,499.60 L123.19,499.59 L123.21,499.59 L123.22,499.59 L123.23,499.59 L123.24,499.58 L123.26,499.58 L123.27,499.57 L123.28,499.57 L123.29,499.56 L123.30,499.55 L123.32,499.54 L123.33,499.52 L123.34,499.51 L123.35,499.49 L123.36,499.47 L123.38,499.44 L123.39,499.42 L123.40,499.39 L123.41,499.35 L123.43,499.31 L123.44,499.26 L123.45,499.21 L123.46,499.16 L123.47,499.09 L123.49,499.03 L123.53,498.70 L123.58,498.27 L123.63,497.72 L123.67,497.07 L123.72,496.32 L123.76,495.50 L123.81,494.62 L123.86,493.71 L123.90,492.79 L123.95,491.86 L124.00,490.94 L124.04,490.03 L124.09,489.14 L124.14,488.27 L124.18,487.42 L124.23,486.60 L124.28,485.80 L124.32,485.02 L124.37,484.27 L124.41,483.53 L124.46,482.82 L124.51,482.13 L124.55,481.45 L124.60,480.80 L124.65,480.16 L124.69,479.54 L124.74,478.94 L124.79,478.35 L124.83,477.77 L124.88,477.21 L124.93,476.67 L124.97,476.13 L125.02,475.61 L125.06,475.10 L125.11,474.60 L125.16,474.11 L125.20,473.63 L125.25,473.16 L125.30,472.70 L125.34,472.25 L125.39,471.81 L125.44,471.38 L125.48,470.95 L125.53,470.54 L125.58,470.13 L125.62,469.72 L125.67,469.33 L125.71,468.94 L125.76,468.56 L125.81,468.18 L125.85,467.81 L125.90,467.45 L125.95,467.09 L125.99,466.74 L126.04,466.39 L126.09,466.05 L126.13,465.72 L126.18,465.39 L126.23,465.06 L126.27,464.74 L126.32,464.42 L126.36,464.11 L126.41,463.80 L126.46,463.49 L126.50,463.19 L126.55,462.90 L126.60,462.60 L126.64,462.31 L126.69,462.03 L126.74,461.75 L126.78,461.47 L126.83,461.19 L126.87,460.92 L126.92,460.65 L126.97,460.39 L127.01,460.13 L127.06,459.87 L127.11,459.61 L127.15,459.36 L127.20,459.11 L127.25,458.86 L127.29,458.61 L127.34,458.37 L127.39,458.13 L127.43,457.89 L127.48,457.66 L127.52,457.43 L127.57,457.20 L127.62,456.97 L127.66,456.74 L127.71,456.52 L127.76,456.30 L127.80,456.08 L127.85,455.86 L127.90,455.65 L127.94,455.44 L127.99,455.22 L128.04,455.02 L128.08,454.81 L128.13,454.60 L128.17,454.40 L128.22,454.20 L128.27,454.00 L128.31,453.80 L128.36,453.61 L128.41,453.41 L128.45,453.22 L128.50,453.03 L128.55,452.84 L128.59,452.65 L128.64,452.46 L128.69,452.28 L128.73,452.09 L128.78,451.91 L128.82,451.73 L128.87,451.55 L128.92,451.38 L128.96,451.20 L129.01,451.02 L129.06,450.85 L129.10,450.68 L129.15,450.51 L129.20,450.34 L129.24,450.17 L129.29,450.00 L129.34,449.84 L129.38,449.67 L129.43,449.51 L129.47,449.35 L129.52,449.18 L129.57,449.02 L129.61,448.87 L129.66,448.71 L129.71,448.55 L129.75,448.40 L129.80,448.24 L129.85,448.09 L129.89,447.93 L129.94,447.78 L129.99,447.63 L130.03,447.48 L130.08,447.33 L130.12,447.19 L130.17,447.04 L130.22,446.90 L130.26,446.75 L130.31,446.61 L130.36,446.46 L130.40,446.32 L130.45,446.18 L130.50,446.04 L130.54,445.90 L130.59,445.76 L130.64,445.62 L130.68,445.49 L130.73,445.35 L130.77,445.22 L130.82,445.08 L130.87,444.95 L130.91,444.82 L130.96,444.68 L131.01,444.55 L131.05,444.42 L131.10,444.29 L131.15,444.16 L131.19,444.04 L131.24,443.91 L131.28,443.78 L131.33,443.65 L131.38,443.53 L131.42,443.40 L131.47,443.28 L131.52,443.16 L131.56,443.03 L131.61,442.91 L131.66,442.79 L131.70,442.67 L131.75,442.55 L131.80,442.43 L131.84,442.31 L131.89,442.19 L131.93,442.08 L131.98,441.96 L132.03,441.84 L132.07,441.73 L132.12,441.61 L132.17,441.50 L132.21,441.38 L132.26,441.27 L132.31,441.16 L132.35,441.04 L132.40,440.93 L132.45,440.82 L132.49,440.71 L132.54,440.60 L132.58,440.49 L132.63,440.38 L132.68,440.27 L132.72,440.16 L133.04,439.44 L133.36,438.73 L133.68,438.05 L133.99,437.39 L134.31,436.75 L134.63,436.12 L134.95,435.51 L135.26,434.92 L135.58,434.34 L135.90,433.78 L136.22,433.22 L136.54,432.69 L136.85,432.16 L137.17,431.65 L137.49,431.15 L137.81,430.66 L138.12,430.18 L138.44,429.71 L138.76,429.25 L139.08,428.79 L139.39,428.35 L139.71,427.92 L140.03,427.49 L140.35,427.07 L140.66,426.66 L140.98,426.26 L141.30,425.86 L141.62,425.47 L141.93,425.09 L142.25,424.71 L142.57,424.34 L142.89,423.97 L143.21,423.61 L143.52,423.26 L143.84,422.91 L144.16,422.57 L144.48,422.23 L144.79,421.90 L145.11,421.57 L145.43,421.25 L145.75,420.93 L146.06,420.61 L146.38,420.30 L146.70,419.99 L147.02,419.69 L147.33,419.39 L147.65,419.10 L147.97,418.81 L148.29,418.52 L148.60,418.24 L148.92,417.96 L149.24,417.68 L149.56,417.41 L149.88,417.14 L150.19,416.87 L150.51,416.61 L150.83,416.34 L151.15,416.09 L151.46,415.83 L151.78,415.58 L152.10,415.33 L152.42,415.08 L152.73,414.84 L153.05,414.60 L153.37,414.36 L153.69,414.12 L154.00,413.89 L154.32,413.65 L154.64,413.42 L154.96,413.20 L155.27,412.97 L155.59,412.75 L155.91,412.53 L156.23,412.31 L156.55,412.09 L156.86,411.88 L157.18,411.66 L157.50,411.45 L157.82,411.24 L158.13,411.04 L158.45,410.83 L158.77,410.63 L159.09,410.43 L159.40,410.23 L159.72,410.03 L160.04,409.83 L160.36,409.64 L160.67,409.44 L160.99,409.25 L161.31,409.06 L161.63,408.87 L161.94,408.69 L162.26,408.50 L162.58,408.32 L162.90,408.13 L163.22,407.95 L163.53,407.77 L163.85,407.59 L164.17,407.42 L164.49,407.24 L164.80,407.07 L165.12,406.89 L165.44,406.72 L165.76,406.55 L166.07,406.38 L166.39,406.22 L166.71,406.05 L167.03,405.88 L167.34,405.72 L167.66,405.55 L167.98,405.39 L168.30,405.23 L168.61,405.07 L168.93,404.91 L169.25,404.75 L169.57,404.60 L169.89,404.44 L170.20,404.29 L170.52,404.13 L170.84,403.98 L171.16,403.83 L171.47,403.68 L171.79,403.53 L172.11,403.38 L172.43,403.23 L172.74,403.09 L173.06,402.94 L173.38,402.80 L173.70,402.65 L174.01,402.51 L174.33,402.37 L174.65,402.22 L174.97,402.08 L175.28,401.94 L175.60,401.80 L175.92,401.67 L176.24,401.53 L176.56,401.39 L176.87,401.26 L177.19,401.12 L177.51,400.99 L177.83,400.85 L178.14,400.72 L178.46,400.59 L178.78,400.46 L179.10,400.33 L179.41,400.20 L179.73,400.07 L180.05,399.94 L180.37,399.81 L180.68,399.69 L181.00,399.56 L181.32,399.43 L181.64,399.31 L181.95,399.19 L182.27,399.06 L182.59,398.94 L182.91,398.82 L183.23,398.69 L183.54,398.57 L183.86,398.45 L184.18,398.33 L184.50,398.21 L184.81,398.10 L185.13,397.98 L185.45,397.86 L185.77,397.74 L186.08,397.63 L186.40,397.51 L186.72,397.40 L187.04,397.28 L187.35,397.17 L187.67,397.05 L187.99,396.94 L188.31,396.83 L188.62,396.72 L188.94,396.60 L189.26,396.49 L189.58,396.38 L189.90,396.27 L190.21,396.16 L190.53,396.06 L190.85,395.95 L191.17,395.84 L191.48,395.73 L191.80,395.63 L192.12,395.52 L192.44,395.41 L192.75,395.31 L193.07,395.20 L193.39,395.10 L193.71,394.99 L194.02,394.89 L194.34,394.79 L194.66,394.69 L194.98,394.58 L195.29,394.48 L195.61,394.38 L195.93,394.28 L198.25,393.55 L200.57,392.85 L202.90,392.17 L205.22,391.50 L207.54,390.86 L209.86,390.23 L212.19,389.61 L214.51,389.02 L216.83,388.43 L219.15,387.86 L221.47,387.30 L223.80,386.76 L226.12,386.23 L228.44,385.71 L230.76,385.20 L233.09,384.70 L235.41,384.21 L237.73,383.73 L240.05,383.26 L242.37,382.80 L244.70,382.34 L247.02,381.90 L249.34,381.46 L251.66,381.03 L253.99,380.61 L256.31,380.19 L258.63,379.79 L260.95,379.38 L263.27,378.99 L265.60,378.60 L267.92,378.22 L270.24,377.84 L272.56,377.47 L274.89,377.10 L277.21,376.74 L279.53,376.38 L281.85,376.03 L284.17,375.69 L286.50,375.35 L288.82,375.01 L291.14,374.68 L293.46,374.35 L295.79,374.02 L298.11,373.70 L300.43,373.39 L302.75,373.08 L305.07,372.77 L307.40,372.46 L309.72,372.16 L312.04,371.86 L314.36,371.57 L316.69,371.28 L319.01,370.99 L321.33,370.71 L323.65,370.42 L325.97,370.15 L328.30,369.87 L330.62,369.60 L332.94,369.33 L335.26,369.06 L337.59,368.80 L339.91,368.53 L342.23,368.27 L344.55,368.02 L346.87,367.76 L349.20,367.51 L351.52,367.26 L353.84,367.02 L356.16,366.77 L358.49,366.53 L360.81,366.29 L363.13,366.05 L365.45,365.81 L367.77,365.58 L370.10,365.35 L372.42,365.12 L374.74,364.89 L377.06,364.66 L379.39,364.44 L381.71,364.22 L384.03,363.99 L386.35,363.78 L388.67,363.56 L391.00,363.34 L393.32,363.13 L395.64,362.92 L397.96,362.71 L400.28,362.50 L402.61,362.29 L404.93,362.08 L407.25,361.88 L409.57,361.68 L411.90,361.48 L414.22,361.28 L416.54,361.08 L418.86,360.88 L421.18,360.69 L423.51,360.49 L425.83,360.30 L428.15,360.11 L430.47,359.92 L432.80,359.73 L435.12,359.54 L437.44,359.35 L439.76,359.17 L442.08,358.99 L444.41,358.80 L446.73,358.62 L449.05,358.44 L451.37,358.26 L453.70,358.08 L456.02,357.91 L458.34,357.73 L460.66,357.56 L462.98,357.38 L465.31,357.21 L467.63,357.04 L469.95,356.87 L472.27,356.70 L474.60,356.53 L476.92,356.36 L479.24,356.19 L481.56,356.03 L483.88,355.86 L486.21,355.70 L488.53,355.54 L490.85,355.37 L493.17,355.21 L495.50,355.05 L497.82,354.89 L500.14,354.73 L502.46,354.58 L504.78,354.42 L507.11,354.26 L509.43,354.11 L511.75,353.95 L514.07,353.80 L516.40,353.65 L518.72,353.50 L521.04,353.34 L523.36,353.19 L525.68,353.04 L528.01,352.90 L530.33,352.75 L532.65,352.60 L534.97,352.45 L537.30,352.31 L539.62,352.16 L541.94,352.02 L544.26,351.87 L546.58,351.73 L548.91,351.59 L551.23,351.44 L553.55,351.30 L555.87,351.16 L558.20,351.02 L560.52,350.88 L562.84,350.74 L565.16,350.61 L567.48,350.47 L569.81,350.33 L572.13,350.20 L574.45,350.06 L576.77,349.93 L579.10,349.79 L581.42,349.66 L583.74,349.52 L586.06,349.39 L588.38,349.26 L590.71,349.13 L593.03,349.00 L595.35,348.87 L597.67,348.74 L600.00,348.61 L602.32,348.48 L604.64,348.35 L606.96,348.22 L609.28,348.09 L611.61,347.97 L613.93,347.84 L616.25,347.72 L618.57,347.59 L620.90,347.47 L623.22,347.34 L625.54,347.22 L627.86,347.09 L630.18,346.97 L632.51,346.85 L634.83,346.73 L637.15,346.61 L639.47,346.48 L641.80,346.36 L644.12,346.24 L646.44,346.12 L648.76,346.01 L651.08,345.89 L653.41,345.77 L655.73,345.65 L658.05,345.53 L660.37,345.42 L662.70,345.30 L665.02,345.18 L667.34,345.07 L669.66,344.95 L671.98,344.84 L674.31,344.72 L676.63,344.61 L678.95,344.49 L681.27,344.38 L683.60,344.27 L685.92,344.16 L688.24,344.04 L690.56,343.93 L692.88,343.82 L695.21,343.71 L697.53,343.60 L699.85,343.49 L702.17,343.38 L704.50,343.27" stroke="#00f" class="sol"/>
<path d="M123.00,499.60 L123.01,499.20 L123.02,498.76 L123.04,498.31 L123.05,497.85 L123.06,497.38 L123.07,496.92 L123.09,496.45 L123.10,495.98 L123.11,495.51 L123.12,495.04 L123.13,494.58 L123.15,494.11 L123.16,493.65 L123.17,493.19 L123.18,492.73 L123.19,492.27 L123.21,491.82 L123.22,491.36 L123.23,490.91 L123.24,490.47 L123.26,490.02 L123.27,489.58 L123.28,489.14 L123.29,488.70 L123.30,488.27 L123.32,487.84 L123.33,487.41 L123.34,486.98 L123.35,486.56 L123.36,486.14 L123.38,485.72 L123.39,485.31 L123.40,484.89 L123.41,484.48 L123.43,484.08 L123.44,483.67 L123.45,483.27 L123.46,482.87 L123.47,482.47 L123.49,482.08 L123.53,480.60 L123.58,479.15 L123.63,477.74 L123.67,476.36 L123.72,475.02 L123.76,473.71 L123.81,472.42 L123.86,471.17 L123.90,469.94 L123.95,468.74 L124.00,467.57 L124.04,466.42 L124.09,465.30 L124.14,464.20 L124.18,463.12 L124.23,462.06 L124.28,461.02 L124.32,460.00 L124.37,459.00 L124.41,458.02 L124.46,457.06 L124.51,456.12 L124.55,455.19 L124.60,454.27 L124.65,453.38 L124.69,452.50 L124.74,451.63 L124.79,450.77 L124.83,449.94 L124.88,449.11 L124.93,448.30 L124.97,447.49 L125.02,446.71 L125.06,445.93 L125.11,445.16 L125.16,444.41 L125.20,443.66 L125.25,442.93 L125.30,442.21 L125.34,441.50 L125.39,440.79 L125.44,440.10 L125.48,439.41 L125.53,438.74 L125.58,438.07 L125.62,437.41 L125.67,436.76 L125.71,436.12 L125.76,435.49 L125.81,434.86 L125.85,434.24 L125.90,433.63 L125.95,433.02 L125.99,432.43 L126.04,431.84 L126.09,431.25 L126.13,430.67 L126.18,430.10 L126.23,429.54 L126.27,428.98 L126.32,428.43 L126.36,427.88 L126.41,427.34 L126.46,426.80 L126.50,426.28 L126.55,425.75 L126.60,425.23 L126.64,424.72 L126.69,424.21 L126.74,423.71 L126.78,423.21 L126.83,422.71 L126.87,422.22 L126.92,421.74 L126.97,421.26 L127.01,420.78 L127.06,420.31 L127.11,419.85 L127.15,419.38 L127.20,418.92 L127.25,418.47 L127.29,418.02 L127.34,417.57 L127.39,417.13 L127.43,416.69 L127.48,416.26 L127.52,415.83 L127.57,415.40 L127.62,414.97 L127.66,414.55 L127.71,414.14 L127.76,413.72 L127.80,413.31 L127.85,412.90 L127.90,412.50 L127.94,412.10 L127.99,411.70 L128.04,411.31 L128.08,410.91 L128.13,410.53 L128.17,410.14 L128.22,409.76 L128.27,409.38 L128.31,409.00 L128.36,408.63 L128.41,408.25 L128.45,407.89 L128.50,407.52 L128.55,407.16 L128.59,406.79 L128.64,406.44 L128.69,406.08 L128.73,405.73 L128.78,405.38 L128.82,405.03 L128.87,404.68 L128.92,404.34 L128.96,403.99 L129.01,403.65 L129.06,403.32 L129.10,402.98 L129.15,402.65 L129.20,402.32 L129.24,401.99 L129.29,401.66 L129.34,401.34 L129.38,401.02 L129.43,400.70 L129.47,400.38 L129.52,400.06 L129.57,399.75 L129.61,399.44 L129.66,399.13 L129.71,398.82 L129.75,398.51 L129.80,398.21 L129.85,397.90 L129.89,397.60 L129.94,397.30 L129.99,397.01 L130.03,396.71 L130.08,396.41 L130.12,396.12 L130.17,395.83 L130.22,395.54 L130.26,395.25 L130.31,394.97 L130.36,394.68 L130.40,394.40 L130.45,394.12 L130.50,393.84 L130.54,393.56 L130.59,393.29 L130.64,393.01 L130.68,392.74 L130.73,392.46 L130.77,392.19 L130.82,391.92 L130.87,391.66 L130.91,391.39 L130.96,391.13 L131.01,390.86 L131.05,390.60 L131.10,390.34 L131.15,390.08 L131.19,389.82 L131.24,389.56 L131.28,389.31 L131.33,389.05 L131.38,388.80 L131.42,388.55 L131.47,388.30 L131.52,388.05 L131.56,387.80 L131.61,387.55 L131.66,387.31 L131.70,387.06 L131.75,386.82 L131.80,386.58 L131.84,386.34 L131.89,386.10 L131.93,385.86 L131.98,385.62 L132.03,385.38 L132.07,385.15 L132.12,384.91 L132.17,384.68 L132.21,384.45 L132.26,384.22 L132.31,383.98 L132.35,383.76 L132.40,383.53 L132.45,383.30 L132.49,383.07 L132.54,382.85 L132.58,382.63 L132.63,382.40 L132.68,382.18 L132.72,381.96 L133.04,380.47 L133.36,379.02 L133.68,377.62 L133.99,376.25 L134.31,374.92 L134.63,373.62 L134.95,372.36 L135.26,371.12 L135.58,369.92 L135.90,368.74 L136.22,367.59 L136.54,366.46 L136.85,365.36 L137.17,364.28 L137.49,363.23 L137.81,362.20 L138.12,361.18 L138.44,360.19 L138.76,359.22 L139.08,358.26 L139.39,357.32 L139.71,356.40 L140.03,355.50 L140.35,354.61 L140.66,353.73 L140.98,352.87 L141.30,352.03 L141.62,351.20 L141.93,350.38 L142.25,349.58 L142.57,348.79 L142.89,348.01 L143.21,347.24 L143.52,346.48 L143.84,345.74 L144.16,345.00 L144.48,344.28 L144.79,343.56 L145.11,342.86 L145.43,342.16 L145.75,341.48 L146.06,340.80 L146.38,340.13 L146.70,339.48 L147.02,338.82 L147.33,338.18 L147.65,337.55 L147.97,336.92 L148.29,336.30 L148.60,335.69 L148.92,335.09 L149.24,334.49 L149.56,333.90 L149.88,333.32 L150.19,332.74 L150.51,332.17 L150.83,331.61 L151.15,331.05 L151.46,330.50 L151.78,329.95 L152.10,329.41 L152.42,328.88 L152.73,328.35 L153.05,327.82 L153.37,327.30 L153.69,326.79 L154.00,326.28 L154.32,325.78 L154.64,325.28 L154.96,324.79 L155.27,324.30 L155.59,323.82 L155.91,323.34 L156.23,322.86 L156.55,322.39 L156.86,321.92 L157.18,321.46 L157.50,321.00 L157.82,320.55 L158.13,320.10 L158.45,319.65 L158.77,319.21 L159.09,318.77 L159.40,318.34 L159.72,317.91 L160.04,317.48 L160.36,317.06 L160.67,316.64 L160.99,316.22 L161.31,315.81 L161.63,315.40 L161.94,314.99 L162.26,314.58 L162.58,314.18 L162.90,313.79 L163.22,313.39 L163.53,313.00 L163.85,312.61 L164.17,312.23 L164.49,311.84 L164.80,311.46 L165.12,311.08 L165.44,310.71 L165.76,310.34 L166.07,309.97 L166.39,309.60 L166.71,309.24 L167.03,308.88 L167.34,308.52 L167.66,308.16 L167.98,307.81 L168.30,307.46 L168.61,307.11 L168.93,306.76 L169.25,306.42 L169.57,306.07 L169.89,305.73 L170.20,305.40 L170.52,305.06 L170.84,304.73 L171.16,304.40 L171.47,304.07 L171.79,303.74 L172.11,303.42 L172.43,303.09 L172.74,302.77 L173.06,302.45 L173.38,302.14 L173.70,301.82 L174.01,301.51 L174.33,301.20 L174.65,300.89 L174.97,300.58 L175.28,300.27 L175.60,299.97 L175.92,299.67 L176.24,299.37 L176.56,299.07 L176.87,298.77 L177.19,298.48 L177.51,298.18 L177.83,297.89 L178.14,297.60 L178.46,297.31 L178.78,297.02 L179.10,296.74 L179.41,296.46 L179.73,296.17 L180.05,295.89 L180.37,295.61 L180.68,295.33 L181.00,295.06 L181.32,294.78 L181.64,294.51 L181.95,294.24 L182.27,293.97 L182.59,293.70 L182.91,293.43 L183.23,293.16 L183.54,292.90 L183.86,292.63 L184.18,292.37 L184.50,292.11 L184.81,291.85 L185.13,291.59 L185.45,291.34 L185.77,291.08 L186.08,290.83 L186.40,290.57 L186.72,290.32 L187.04,290.07 L187.35,289.82 L187.67,289.57 L187.99,289.32 L188.31,289.08 L188.62,288.83 L188.94,288.59 L189.26,288.34 L189.58,288.10 L189.90,287.86 L190.21,287.62 L190.53,287.38 L190.85,287.15 L191.17,286.91 L191.48,286.68 L191.80,286.44 L192.12,286.21 L192.44,285.98 L192.75,285.74 L193.07,285.51 L193.39,285.29 L193.71,285.06 L194.02,284.83 L194.34,284.60 L194.66,284.38 L194.98,284.16 L195.29,283.93 L195.61,283.71 L195.93,283.49 L198.25,281.90 L200.57,280.36 L202.90,278.86 L205.22,277.40 L207.54,275.98 L209.86,274.60 L212.19,273.25 L214.51,271.94 L216.83,270.66 L219.15,269.41 L221.47,268.19 L223.80,266.99 L226.12,265.83 L228.44,264.68 L230.76,263.56 L233.09,262.47 L235.41,261.39 L237.73,260.34 L240.05,259.31 L242.37,258.30 L244.70,257.30 L247.02,256.33 L249.34,255.37 L251.66,254.42 L253.99,253.50 L256.31,252.59 L258.63,251.69 L260.95,250.81 L263.27,249.94 L265.60,249.09 L267.92,248.25 L270.24,247.42 L272.56,246.61 L274.89,245.80 L277.21,245.01 L279.53,244.23 L281.85,243.46 L284.17,242.70 L286.50,241.96 L288.82,241.22 L291.14,240.49 L293.46,239.77 L295.79,239.06 L298.11,238.36 L300.43,237.67 L302.75,236.98 L305.07,236.31 L307.40,235.64 L309.72,234.98 L312.04,234.33 L314.36,233.69 L316.69,233.05 L319.01,232.42 L321.33,231.80 L323.65,231.18 L325.97,230.57 L328.30,229.97 L330.62,229.37 L332.94,228.78 L335.26,228.20 L337.59,227.62 L339.91,227.05 L342.23,226.48 L344.55,225.92 L346.87,225.36 L349.20,224.81 L351.52,224.27 L353.84,223.73 L356.16,223.19 L358.49,222.67 L360.81,222.14 L363.13,221.62 L365.45,221.10 L367.77,220.59 L370.10,220.09 L372.42,219.58 L374.74,219.09 L377.06,218.59 L379.39,218.10 L381.71,217.62 L384.03,217.14 L386.35,216.66 L388.67,216.19 L391.00,215.72 L393.32,215.25 L395.64,214.79 L397.96,214.33 L400.28,213.88 L402.61,213.42 L404.93,212.98 L407.25,212.53 L409.57,212.09 L411.90,211.65 L414.22,211.22 L416.54,210.79 L418.86,210.36 L421.18,209.93 L423.51,209.51 L425.83,209.09 L428.15,208.67 L430.47,208.26 L432.80,207.85 L435.12,207.44 L437.44,207.04 L439.76,206.63 L442.08,206.23 L444.41,205.84 L446.73,205.44 L449.05,205.05 L451.37,204.66 L453.70,204.27 L456.02,203.89 L458.34,203.51 L460.66,203.13 L462.98,202.75 L465.31,202.37 L467.63,202.00 L469.95,201.63 L472.27,201.26 L474.60,200.90 L476.92,200.53 L479.24,200.17 L481.56,199.81 L483.88,199.45 L486.21,199.10 L488.53,198.74 L490.85,198.39 L493.17,198.04 L495.50,197.70 L497.82,197.35 L500.14,197.01 L502.46,196.67 L504.78,196.33 L507.11,195.99 L509.43,195.65 L511.75,195.32 L514.07,194.98 L516.40,194.65 L518.72,194.32 L521.04,194.00 L523.36,193.67 L525.68,193.35 L528.01,193.03 L530.33,192.71 L532.65,192.39 L534.97,192.07 L537.30,191.75 L539.62,191.44 L541.94,191.13 L544.26,190.81 L546.58,190.51 L548.91,190.20 L551.23,189.89 L553.55,189.59 L555.87,189.28 L558.20,188.98 L560.52,188.68 L562.84,188.38 L565.16,188.08 L567.48,187.78 L569.81,187.49 L572.13,187.19 L574.45,186.90 L576.77,186.61 L579.10,186.32 L581.42,186.03 L583.74,185.74 L586.06,185.46 L588.38,185.17 L590.71,184.89 L593.03,184.61 L595.35,184.33 L597.67,184.05 L600.00,183.77 L602.32,183.49 L604.64,183.21 L606.96,182.94 L609.28,182.66 L611.61,182.39 L613.93,182.12 L616.25,181.85 L618.57,181.58 L620.90,181.31 L623.22,181.04 L625.54,180.78 L627.86,180.51 L630.18,180.25 L632.51,179.98 L634.83,179.72 L637.15,179.46 L639.47,179.20 L641.80,178.94 L644.12,178.68 L646.44,178.42 L648.76,178.17 L651.08,177.91 L653.41,177.66 L655.73,177.41 L658.05,177.15 L660.37,176.90 L662.70,176.65 L665.02,176.40 L667.34,176.15 L669.66,175.91 L671.98,175.66 L674.31,175.41 L676.63,175.17 L678.95,174.92 L681.27,174.68 L683.60,174.44 L685.92,174.20 L688.24,173.96 L690.56,173.72 L692.88,173.48 L695.21,173.24 L697.53,173.00 L699.85,172.77 L702.17,172.53 L704.50,172.30" stroke="#000" class="sol"/>
<path d="M123.00,499.60 L123.01,499.60 L123.02,499.59 L123.04,499.58 L123.05,499.56 L123.06,499.54 L123.07,499.51 L123.09,499.48 L123.10,499.44 L123.11,499.39 L123.12,499.34 L123.13,499.28 L123.15,499.22 L123.16,499.14 L123.17,499.07 L123.18,498.98 L123.19,498.89 L123.21,498.79 L123.22,498.69 L123.23,498.58 L123.24,498.47 L123.26,498.34 L123.27,498.22 L123.28,498.08 L123.29,497.94 L123.30,497.80 L123.32,497.65 L123.33,497.49 L123.34,497.33 L123.35,497.16 L123.36,496.99 L123.38,496.81 L123.39,496.63 L123.40,496.45 L123.41,496.26 L123.43,496.06 L123.44,495.86 L123.45,495.66 L123.46,495.45 L123.47,495.24 L123.49,495.03 L123.53,494.18 L123.58,493.29 L123.63,492.37 L123.67,491.42 L123.72,490.45 L123.76,489.47 L123.81,488.47 L123.86,487.48 L123.90,486.48 L123.95,485.48 L124.00,484.49 L124.04,483.51 L124.09,482.54 L124.14,481.57 L124.18,480.62 L124.23,479.68 L124.28,478.76 L124.32,477.84 L124.37,476.95 L124.41,476.06 L124.46,475.19 L124.51,474.34 L124.55,473.50 L124.60,472.67 L124.65,471.86 L124.69,471.07 L124.74,470.28 L124.79,469.51 L124.83,468.76 L124.88,468.01 L124.93,467.28 L124.97,466.56 L125.02,465.86 L125.06,465.16 L125.11,464.48 L125.16,463.81 L125.20,463.15 L125.25,462.50 L125.30,461.86 L125.34,461.23 L125.39,460.61 L125.44,460.00 L125.48,459.40 L125.53,458.81 L125.58,458.23 L125.62,457.66 L125.67,457.09 L125.71,456.54 L125.76,455.99 L125.81,455.45 L125.85,454.92 L125.90,454.39 L125.95,453.87 L125.99,453.36 L126.04,452.86 L126.09,452.36 L126.13,451.87 L126.18,451.39 L126.23,450.91 L126.27,450.44 L126.32,449.97 L126.36,449.51 L126.41,449.06 L126.46,448.61 L126.50,448.17 L126.55,447.73 L126.60,447.30 L126.64,446.87 L126.69,446.45 L126.74,446.03 L126.78,445.62 L126.83,445.21 L126.87,444.81 L126.92,444.41 L126.97,444.01 L127.01,443.62 L127.06,443.23 L127.11,442.85 L127.15,442.47 L127.20,442.10 L127.25,441.73 L127.29,441.36 L127.34,441.00 L127.39,440.64 L127.43,440.29 L127.48,439.93 L127.52,439.59 L127.57,439.24 L127.62,438.90 L127.66,438.56 L127.71,438.22 L127.76,437.89 L127.80,437.56 L127.85,437.24 L127.90,436.91 L127.94,436.59 L127.99,436.27 L128.04,435.96 L128.08,435.65 L128.13,435.34 L128.17,435.03 L128.22,434.73 L128.27,434.43 L128.31,434.13 L128.36,433.83 L128.41,433.54 L128.45,433.25 L128.50,432.96 L128.55,432.67 L128.59,432.39 L128.64,432.10 L128.69,431.82 L128.73,431.55 L128.78,431.27 L128.82,431.00 L128.87,430.73 L128.92,430.46 L128.96,430.19 L129.01,429.93 L129.06,429.66 L129.10,429.40 L129.15,429.14 L129.20,428.88 L129.24,428.63 L129.29,428.38 L129.34,428.12 L129.38,427.87 L129.43,427.63 L129.47,427.38 L129.52,427.13 L129.57,426.89 L129.61,426.65 L129.66,426.41 L129.71,426.17 L129.75,425.93 L129.80,425.70 L129.85,425.47 L129.89,425.23 L129.94,425.00 L129.99,424.78 L130.03,424.55 L130.08,424.32 L130.12,424.10 L130.17,423.87 L130.22,423.65 L130.26,423.43 L130.31,423.21 L130.36,423.00 L130.40,422.78 L130.45,422.56 L130.50,422.35 L130.54,422.14 L130.59,421.93 L130.64,421.72 L130.68,421.51 L130.73,421.30 L130.77,421.10 L130.82,420.89 L130.87,420.69 L130.91,420.49 L130.96,420.28 L131.01,420.08 L131.05,419.88 L131.10,419.69 L131.15,419.49 L131.19,419.29 L131.24,419.10 L131.28,418.91 L131.33,418.71 L131.38,418.52 L131.42,418.33 L131.47,418.14 L131.52,417.95 L131.56,417.77 L131.61,417.58 L131.66,417.40 L131.70,417.21 L131.75,417.03 L131.80,416.85 L131.84,416.66 L131.89,416.48 L131.93,416.30 L131.98,416.13 L132.03,415.95 L132.07,415.77 L132.12,415.59 L132.17,415.42 L132.21,415.24 L132.26,415.07 L132.31,414.90 L132.35,414.73 L132.40,414.56 L132.45,414.39 L132.49,414.22 L132.54,414.05 L132.58,413.88 L132.63,413.71 L132.68,413.55 L132.72,413.38 L133.04,412.27 L133.36,411.20 L133.68,410.15 L133.99,409.14 L134.31,408.16 L134.63,407.20 L134.95,406.27 L135.26,405.36 L135.58,404.47 L135.90,403.61 L136.22,402.77 L136.54,401.94 L136.85,401.14 L137.17,400.35 L137.49,399.59 L137.81,398.83 L138.12,398.10 L138.44,397.38 L138.76,396.67 L139.08,395.98 L139.39,395.30 L139.71,394.63 L140.03,393.98 L140.35,393.34 L140.66,392.71 L140.98,392.09 L141.30,391.48 L141.62,390.88 L141.93,390.29 L142.25,389.71 L142.57,389.15 L142.89,388.59 L143.21,388.03 L143.52,387.49 L143.84,386.96 L144.16,386.43 L144.48,385.91 L144.79,385.40 L145.11,384.90 L145.43,384.40 L145.75,383.91 L146.06,383.43 L146.38,382.95 L146.70,382.48 L147.02,382.02 L147.33,381.56 L147.65,381.11 L147.97,380.66 L148.29,380.22 L148.60,379.79 L148.92,379.36 L149.24,378.93 L149.56,378.51 L149.88,378.10 L150.19,377.69 L150.51,377.29 L150.83,376.88 L151.15,376.49 L151.46,376.10 L151.78,375.71 L152.10,375.33 L152.42,374.95 L152.73,374.57 L153.05,374.20 L153.37,373.83 L153.69,373.47 L154.00,373.11 L154.32,372.76 L154.64,372.40 L154.96,372.05 L155.27,371.71 L155.59,371.37 L155.91,371.03 L156.23,370.69 L156.55,370.36 L156.86,370.03 L157.18,369.70 L157.50,369.38 L157.82,369.06 L158.13,368.74 L158.45,368.43 L158.77,368.11 L159.09,367.80 L159.40,367.50 L159.72,367.19 L160.04,366.89 L160.36,366.59 L160.67,366.30 L160.99,366.00 L161.31,365.71 L161.63,365.42 L161.94,365.13 L162.26,364.85 L162.58,364.57 L162.90,364.29 L163.22,364.01 L163.53,363.73 L163.85,363.46 L164.17,363.19 L164.49,362.92 L164.80,362.65 L165.12,362.39 L165.44,362.12 L165.76,361.86 L166.07,361.60 L166.39,361.34 L166.71,361.09 L167.03,360.83 L167.34,360.58 L167.66,360.33 L167.98,360.08 L168.30,359.83 L168.61,359.59 L168.93,359.34 L169.25,359.10 L169.57,358.86 L169.89,358.62 L170.20,358.39 L170.52,358.15 L170.84,357.92 L171.16,357.68 L171.47,357.45 L171.79,357.22 L172.11,356.99 L172.43,356.77 L172.74,356.54 L173.06,356.32 L173.38,356.10 L173.70,355.87 L174.01,355.65 L174.33,355.44 L174.65,355.22 L174.97,355.00 L175.28,354.79 L175.60,354.58 L175.92,354.36 L176.24,354.15 L176.56,353.94 L176.87,353.73 L177.19,353.53 L177.51,353.32 L177.83,353.12 L178.14,352.91 L178.46,352.71 L178.78,352.51 L179.10,352.31 L179.41,352.11 L179.73,351.91 L180.05,351.72 L180.37,351.52 L180.68,351.32 L181.00,351.13 L181.32,350.94 L181.64,350.75 L181.95,350.56 L182.27,350.37 L182.59,350.18 L182.91,349.99 L183.23,349.80 L183.54,349.62 L183.86,349.43 L184.18,349.25 L184.50,349.07 L184.81,348.88 L185.13,348.70 L185.45,348.52 L185.77,348.34 L186.08,348.16 L186.40,347.99 L186.72,347.81 L187.04,347.63 L187.35,347.46 L187.67,347.29 L187.99,347.11 L188.31,346.94 L188.62,346.77 L188.94,346.60 L189.26,346.43 L189.58,346.26 L189.90,346.09 L190.21,345.92 L190.53,345.76 L190.85,345.59 L191.17,345.42 L191.48,345.26 L191.80,345.10 L192.12,344.93 L192.44,344.77 L192.75,344.61 L193.07,344.45 L193.39,344.29 L193.71,344.13 L194.02,343.97 L194.34,343.81 L194.66,343.65 L194.98,343.50 L195.29,343.34 L195.61,343.18 L195.93,343.03 L198.25,341.92 L200.57,340.84 L202.90,339.79 L205.22,338.77 L207.54,337.78 L209.86,336.81 L212.19,335.87 L214.51,334.95 L216.83,334.06 L219.15,333.18 L221.47,332.33 L223.80,331.50 L226.12,330.68 L228.44,329.88 L230.76,329.10 L233.09,328.33 L235.41,327.58 L237.73,326.85 L240.05,326.12 L242.37,325.42 L244.70,324.72 L247.02,324.04 L249.34,323.37 L251.66,322.71 L253.99,322.06 L256.31,321.43 L258.63,320.80 L260.95,320.18 L263.27,319.58 L265.60,318.98 L267.92,318.39 L270.24,317.81 L272.56,317.24 L274.89,316.68 L277.21,316.13 L279.53,315.58 L281.85,315.04 L284.17,314.51 L286.50,313.99 L288.82,313.47 L291.14,312.96 L293.46,312.46 L295.79,311.96 L298.11,311.47 L300.43,310.99 L302.75,310.51 L305.07,310.04 L307.40,309.57 L309.72,309.11 L312.04,308.65 L314.36,308.20 L316.69,307.75 L319.01,307.31 L321.33,306.88 L323.65,306.45 L325.97,306.02 L328.30,305.60 L330.62,305.18 L332.94,304.76 L335.26,304.35 L337.59,303.95 L339.91,303.55 L342.23,303.15 L344.55,302.76 L346.87,302.37 L349.20,301.98 L351.52,301.60 L353.84,301.22 L356.16,300.85 L358.49,300.47 L360.81,300.11 L363.13,299.74 L365.45,299.38 L367.77,299.02 L370.10,298.66 L372.42,298.31 L374.74,297.96 L377.06,297.62 L379.39,297.27 L381.71,296.93 L384.03,296.59 L386.35,296.26 L388.67,295.92 L391.00,295.59 L393.32,295.27 L395.64,294.94 L397.96,294.62 L400.28,294.30 L402.61,293.98 L404.93,293.67 L407.25,293.35 L409.57,293.04 L411.90,292.74 L414.22,292.43 L416.54,292.13 L418.86,291.82 L421.18,291.53 L423.51,291.23 L425.83,290.93 L428.15,290.64 L430.47,290.35 L432.80,290.06 L435.12,289.77 L437.44,289.49 L439.76,289.20 L442.08,288.92 L444.41,288.64 L446.73,288.36 L449.05,288.09 L451.37,287.81 L453.70,287.54 L456.02,287.27 L458.34,287.00 L460.66,286.73 L462.98,286.46 L465.31,286.20 L467.63,285.94 L469.95,285.68 L472.27,285.42 L474.60,285.16 L476.92,284.90 L479.24,284.65 L481.56,284.39 L483.88,284.14 L486.21,283.89 L488.53,283.64 L490.85,283.39 L493.17,283.14 L495.50,282.90 L497.82,282.65 L500.14,282.41 L502.46,282.17 L504.78,281.93 L507.11,281.69 L509.43,281.45 L511.75,281.22 L514.07,280.98 L516.40,280.75 L518.72,280.52 L521.04,280.28 L523.36,280.05 L525.68,279.82 L528.01,279.60 L530.33,279.37 L532.65,279.14 L534.97,278.92 L537.30,278.70 L539.62,278.47 L541.94,278.25 L544.26,278.03 L546.58,277.81 L548.91,277.59 L551.23,277.38 L553.55,277.16 L555.87,276.95 L558.20,276.73 L560.52,276.52 L562.84,276.31 L565.16,276.09 L567.48,275.88 L569.81,275.68 L572.13,275.47 L574.45,275.26 L576.77,275.05 L579.10,274.85 L581.42,274.64 L583.74,274.44 L586.06,274.24 L588.38,274.03 L590.71,273.83 L593.03,273.63 L595.35,273.43 L597.67,273.23 L600.00,273.03 L602.32,272.84 L604.64,272.64 L606.96,272.45 L609.28,272.25 L611.61,272.06 L613.93,271.86 L616.25,271.67 L618.57,271.48 L620.90,271.29 L623.22,271.10 L625.54,270.91 L627.86,270.72 L630.18,270.53 L632.51,270.35 L634.83,270.16 L637.15,269.97 L639.47,269.79 L641.80,269.60 L644.12,269.42 L646.44,269.24 L648.76,269.06 L651.08,268.87 L653.41,268.69 L655.73,268.51 L658.05,268.33 L660.37,268.15 L662.70,267.98 L665.02,267.80 L667.34,267.62 L669.66,267.45 L671.98,267.27 L674.31,267.09 L676.63,266.92 L678.95,266.75 L681.27,266.57 L683.60,266.40 L685.92,266.23 L688.24,266.06 L690.56,265.88 L692.88,265.71 L695.21,265.54 L697.53,265.38 L699.85,265.21 L702.17,265.04 L704.50,264.87" stroke="#f00" class="sol"/>
<rect x="123" y="10.7" width="388.6" height="150.3" fill="none" stroke="#000" stroke-width="2.6"/>
<line x1="127" y1="30.7" x2="193.7" y2="30.7" stroke="#00f" stroke-width="4" stroke-linecap="round"/>
<text transform="translate(201.9,40.6) scale(1,1.03)" class="lg">fibril height = 2 nm</text>
<line x1="127" y1="67.9" x2="193.7" y2="67.9" stroke="#f00" stroke-width="4" stroke-linecap="round"/>
<text transform="translate(201.9,77.7) scale(1,1.03)" class="lg">fibril height = 4 nm</text>
<line x1="127" y1="104.7" x2="193.7" y2="104.7" stroke="#000" stroke-width="4" stroke-linecap="round"/>
<text transform="translate(201.9,113.8) scale(1,1.03)" class="lg">fibril height = 6 nm</text>
<line x1="127.1" y1="141.0" x2="132.1" y2="141.0" stroke="#00f" stroke-width="4.2" stroke-linecap="round"/>
<line x1="149.3" y1="141.0" x2="154.3" y2="141.0" stroke="#00f" stroke-width="4.2" stroke-linecap="round"/>
<line x1="171.9" y1="141.0" x2="176.9" y2="141.0" stroke="#00f" stroke-width="4.2" stroke-linecap="round"/>
<text transform="translate(201.9,150.6) scale(1,1.03)" class="lg">density increase of 2 %</text>
<text transform="translate(90.9,508.90) scale(1,1.035)" class="yt">0</text>
<text transform="translate(90.9,432.56) scale(1,1.035)" class="yt">15</text>
<text transform="translate(90.9,356.23) scale(1,1.035)" class="yt">30</text>
<text transform="translate(90.9,279.90) scale(1,1.035)" class="yt">45</text>
<text transform="translate(90.9,203.56) scale(1,1.035)" class="yt">60</text>
<text transform="translate(90.9,127.23) scale(1,1.035)" class="yt">75</text>
<text transform="translate(90.9,50.89) scale(1,1.035)" class="yt">90</text>
<text transform="translate(123.00,547.7) scale(1,1.025)" class="xt">0</text>
<text transform="translate(244.55,547.7) scale(1,1.025)" class="xt">500</text>
<text transform="translate(366.10,547.7) scale(1,1.025)" class="xt">1000</text>
<text transform="translate(487.65,547.7) scale(1,1.025)" class="xt">1500</text>
<text transform="translate(608.20,547.7) scale(1,1.025)" class="xt">2000</text>
<text x="253" y="596.2" style="font-size:43.7px">fibril length / nm</text>
<text transform="translate(34.3,552.2) rotate(-90)" x="0" y="0" style="font-size:44px">sedimentation coefficient / S</text>
</svg>
</body></html>
